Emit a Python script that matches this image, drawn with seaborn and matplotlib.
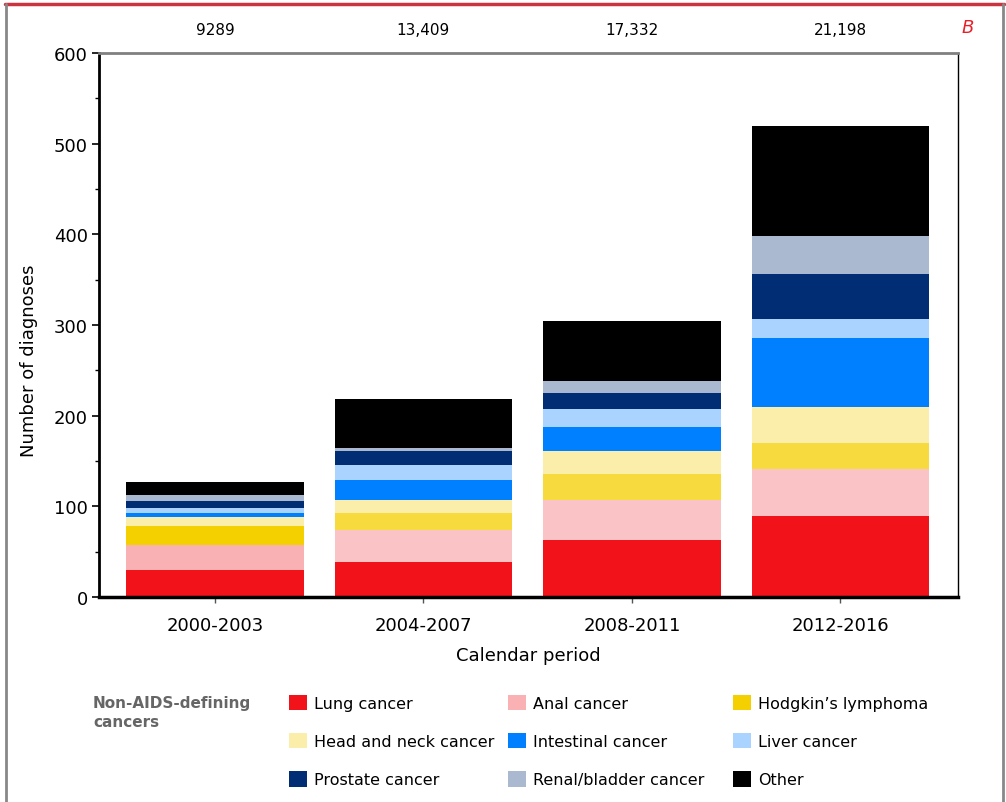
import matplotlib
matplotlib.use("Agg")
import matplotlib.pyplot as plt
import seaborn as sns
import numpy as np
import pandas as pd
from matplotlib.lines import Line2D
from matplotlib.patches import Patch

periods = ["2000-2003", "2004-2007", "2008-2011", "2012-2016"]
counts_labels = ["9289", "13,409", "17,332", "21,198"]
categories = ["Lung cancer", "Anal cancer", "Hodgkin\u2019s lymphoma",
              "Head and neck cancer", "Intestinal cancer", "Liver cancer",
              "Prostate cancer", "Renal/bladder cancer", "Other"]
lung = [30, 39, 63, 89]
anal = [27, 35, 44, 52]
hodgkin = [21, 19, 29, 29]
head_neck = [10, 14, 25, 40]
intestinal = [5, 22, 26, 76]
liver = [5, 17, 20, 21]
prostate = [8, 15, 18, 49]
renal = [7, 3, 13, 42]
other = [14, 54, 66, 121]
series = [lung, anal, hodgkin, head_neck, intestinal, liver, prostate, renal, other]
colors = ["#F2121A", "#FAC4C7", "#F7DA3E", "#FBEEAA", "#0080FF", "#AAD4FF",
          "#002D74", "#AAB8D0", "#000000"]
first_bar_colors = ["#F2121A", "#F9B1B4", "#F5D000", "#FBEEAA", "#0080FF", "#AAD4FF",
                    "#002D74", "#AAB8D0", "#000000"]

sns.set_style("white")
plt.rcParams["font.family"] = ["DejaVu Sans"]
plt.rcParams["text.color"] = "black"
plt.rcParams["axes.labelcolor"] = "black"
plt.rcParams["xtick.color"] = "black"
plt.rcParams["ytick.color"] = "black"

fig = plt.figure(figsize=(10.06, 8.03), dpi=100)
ax = fig.add_axes([99 / 1006, 1 - 598 / 803, (958 - 99) / 1006, (598 - 54) / 803])

cum = np.cumsum(np.array(series), axis=0)
df = pd.DataFrame({"period": periods})
for i in range(len(categories) - 1, -1, -1):
    df["v"] = cum[i]
    pal = [first_bar_colors[i], colors[i], colors[i], colors[i]]
    sns.barplot(data=df, x="period", y="v", hue="period", palette=pal, legend=False,
                width=0.85, saturation=1, ax=ax, edgecolor="none", linewidth=0,
                zorder=2 + (len(categories) - i) * 0.01)

ax.set_xlim(-0.556, 3.564)
ax.set_ylim(0, 600)
ax.set_yticks(range(0, 601, 100))
ax.set_yticks(range(50, 600, 100), minor=True)
ax.tick_params(axis="y", which="major", direction="out", length=5, width=1.2, labelsize=13,
               color="black", labelcolor="black", left=True, pad=3)
ax.tick_params(axis="y", which="minor", direction="out", length=3, width=1, left=True, color="black")
ax.tick_params(axis="x", direction="out", length=4, width=1, bottom=True, color="#555555",
               labelcolor="black", labelsize=13, pad=10)
ax.set_xticks(range(4))
ax.set_xticklabels(periods)

ax.set_xlabel("Calendar period", fontsize=13, labelpad=8, color="black")
ax.set_ylabel("Number of diagnoses", fontsize=13, color="black")
ax.yaxis.set_label_coords(-0.071, 0.437)

for s in ["left", "bottom"]:
    ax.spines[s].set_color("black")
ax.spines["left"].set_linewidth(2)
ax.spines["bottom"].set_linewidth(2.5)
ax.spines["top"].set_color("#808080")
ax.spines["top"].set_linewidth(2)
ax.spines["right"].set_color("black")
ax.spines["right"].set_linewidth(1)

for i, lab in enumerate(counts_labels):
    ax.text(i, 1.044, lab, transform=ax.get_xaxis_transform(), ha="center", va="center",
            fontsize=11, color="black")

fig.text(968 / 1006, 1 - 28 / 803, "B", color="#E8202A", fontstyle="italic", fontsize=13,
         ha="center", va="center")

# frame
fig.add_artist(Line2D([5 / 1006, 1004 / 1006], [1 - 5 / 803] * 2, color="#CC3340", lw=2.5,
                      transform=fig.transFigure))
fig.add_artist(Line2D([6 / 1006] * 2, [0, 1 - 5 / 803], color="#888888", lw=2, transform=fig.transFigure))
fig.add_artist(Line2D([1003 / 1006] * 2, [0, 1 - 5 / 803], color="#888888", lw=2, transform=fig.transFigure))

# legend
fig.text(93 / 1006, 1 - 713 / 803, "Non-AIDS-defining\ncancers", fontsize=11, fontweight="bold",
         color="#666666", ha="left", va="center", linespacing=1.35)
col_x = [289, 508, 733]
for c in range(3):
    idx = [c, c + 3, c + 6]
    handles = [Patch(facecolor=first_bar_colors[k], edgecolor="none") for k in idx]
    labels = [categories[k] for k in idx]
    leg = fig.legend(handles, labels, loc="upper left", bbox_to_anchor=(col_x[c] / 1006, 1 - 696 / 803),
                     frameon=False, fontsize=11.5, handlelength=1.1, handleheight=1.1, handletextpad=0.45,
                     labelspacing=1.38, borderpad=0, borderaxespad=0)
    for t in leg.get_texts():
        t.set_color("black")

fig.savefig("out.png", dpi=100)
